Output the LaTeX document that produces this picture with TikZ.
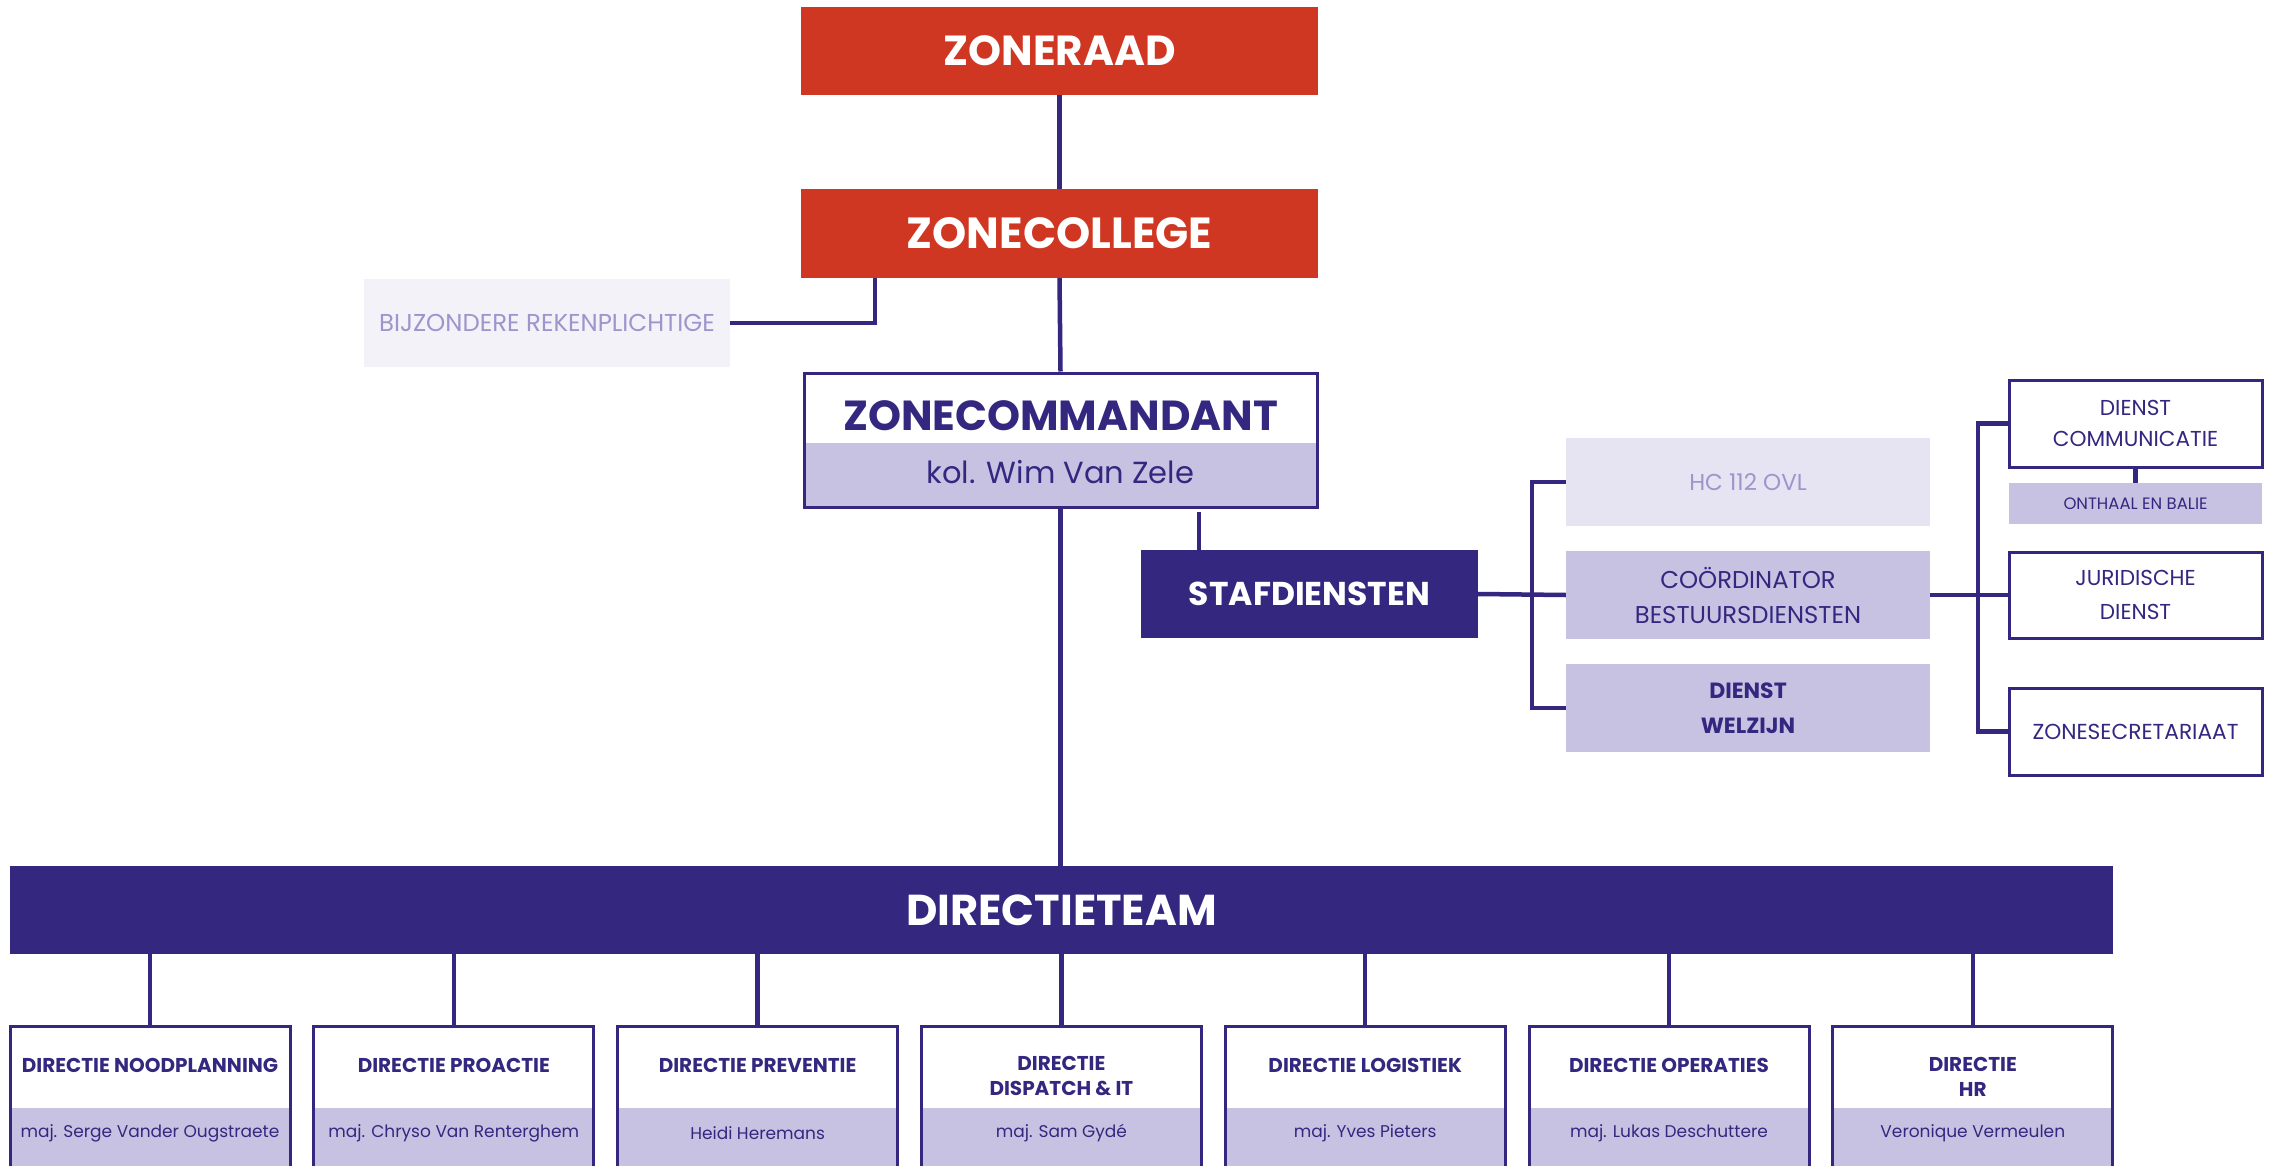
\documentclass[tikz,border=0pt]{standalone}
\usepackage{fontspec}
\setmainfont{Poppins}
\definecolor{zred}{RGB}{207,55,34}
\definecolor{zdark}{RGB}{51,39,128}
\definecolor{zlav}{RGB}{200,194,226}
\definecolor{zpale}{RGB}{230,227,243}
\definecolor{zpaler}{RGB}{243,242,248}
\definecolor{zlight}{RGB}{157,149,203}
\tikzset{
  redbox/.style={fill=zred, text=white, font=\bfseries\fontsize{42}{50}\selectfont, minimum width=517pt, minimum height=88pt, inner sep=0pt},
  darkbox/.style={fill=zdark, text=white, inner sep=0pt},
  lavbox/.style={fill=zlav, text=zdark, inner sep=0pt, align=center},
  outlinebox/.style={draw=zdark, line width=3pt, fill=none, inner sep=0pt},
  whitebox/.style={draw=zdark, line width=3pt, fill=white, text=zdark, inner sep=0pt, align=center},
  conn/.style={draw=zdark, line width=4.5pt},
  txt/.style={text=zdark, inner sep=0pt, align=center},
}
\begin{document}
\begin{tikzpicture}[x=1pt,y=-1pt]
\useasboundingbox (0,0) rectangle (2283,1166);
\clip (0,0) rectangle (2283,1166);
\fill[white] (0,0) rectangle (2283,1166);

% top
\node[redbox] (zr) at (1059.5,51) {ZONERAAD};
\node[redbox, minimum height=89pt, font=\bfseries\fontsize{43.5}{50}\selectfont] (zc) at (1059.5,233.5) {ZONECOLLEGE};
\node[fill=zpaler, text=zlight, minimum width=366pt, minimum height=88pt, inner sep=0pt,
      font=\fontsize{24.4}{29}\selectfont] (bj) at (547,323) {BIJZONDERE REKENPLICHTIGE};

% zonecommandant
\node[fill=white, minimum width=513pt, minimum height=134pt, inner sep=0pt] (cmdbg) at (1060.5,440) {};
\node[fill=zlav, minimum width=513pt, minimum height=64pt, inner sep=0pt] (cmdlow) at (1060.5,475) {};
\node[outlinebox, minimum width=513pt, minimum height=134pt] (cmd) at (1060.5,440) {};
\node[txt, font=\bfseries\fontsize{42}{50}\selectfont] (cmdt) at (1060.5,415.5) {ZONECOMMANDANT};
\node[txt, font=\fontsize{30.5}{37}\selectfont] (cmdn) at (1060.5,472) {kol. Wim Van Zele};

% stafdiensten
\node[darkbox, minimum width=337pt, minimum height=88pt, font=\bfseries\fontsize{33}{40}\selectfont] (staf) at (1309.5,594) {STAFDIENSTEN};
\node[fill=zpale, text=zlight, minimum width=364pt, minimum height=88pt, inner sep=0pt,
      font=\fontsize{23}{28}\selectfont] (hc) at (1748,482) {HC 112 OVL};
\node[lavbox, minimum width=364pt, minimum height=88pt, font=\fontsize{24.3}{35}\selectfont] (coord) at (1748,595) {COÖRDINATOR\\BESTUURSDIENSTEN};
\node[lavbox, minimum width=364pt, minimum height=88pt, font=\bfseries\fontsize{22}{35}\selectfont] (welz) at (1748,708) {DIENST\\WELZIJN};

\node[whitebox, minimum width=253pt, minimum height=87pt, font=\fontsize{21.6}{31}\selectfont] (comm) at (2135.5,423.5) {DIENST\\COMMUNICATIE};
\node[lavbox, minimum width=253pt, minimum height=41pt, font=\fontsize{16.5}{20}\selectfont] (onth) at (2135.5,503.5) {ONTHAAL EN BALIE};
\node[whitebox, minimum width=253pt, minimum height=86pt, font=\fontsize{21.6}{34}\selectfont] (jur) at (2135.5,595) {JURIDISCHE\\DIENST};
\node[whitebox, minimum width=253pt, minimum height=87pt, font=\fontsize{21.7}{26}\selectfont] (zsec) at (2135.5,731.5) {ZONESECRETARIAAT};

% directieteam
\node[darkbox, minimum width=2103pt, minimum height=88pt, font=\bfseries\fontsize{43.2}{50}\selectfont] (dt) at (1061.5,910) {DIRECTIETEAM};

% bottom boxes
\foreach \i/\t/\n/\two in {
  0/{DIRECTIE NOODPLANNING}/{maj. Serge Vander Ougstraete}/0,
  1/{DIRECTIE PROACTIE}/{maj. Chryso Van Renterghem}/0,
  2/{DIRECTIE PREVENTIE}/{Heidi Heremans}/0,
  3/{DIRECTIE\\DISPATCH \& IT}/{maj. Sam Gydé}/1,
  4/{DIRECTIE LOGISTIEK}/{maj. Yves Pieters}/0,
  5/{DIRECTIE OPERATIES}/{maj. Lukas Deschuttere}/0,
  6/{DIRECTIE\\HR}/{Veronique Vermeulen}/1}{
  \pgfmathsetmacro{\cx}{150+303.8*\i}
  \pgfmathsetmacro{\ty}{\two==1 ? 1076.5 : 1065}
  \node[fill=white, minimum width=280pt, minimum height=150pt, inner sep=0pt] (bbg\i) at (\cx,1101) {};
  \node[fill=zlav, minimum width=280pt, minimum height=68pt, inner sep=0pt] (blow\i) at (\cx,1142) {};
  \node[outlinebox, minimum width=280pt, minimum height=150pt] (b\i) at (\cx,1101) {};
  \node[txt, font=\bfseries\fontsize{20}{25}\selectfont] (bt\i) at (\cx,\ty) {\t};
  \node[txt, font=\fontsize{17}{20}\selectfont] (bn\i) at (\cx,1133) {\n};
  \draw[conn] (dt.south -| b\i.north) -- (b\i.north);
}

% connectors
\draw[conn] (zr.south) -- (zc.north);
\draw[conn, line join=miter] (bj.east) -| ([xshift=-184.5pt]zc.south);
\draw[conn] (zc.south) -- (cmd.north);
\draw[conn] (cmd.south) -- (cmd.south |- dt.north);
\draw[conn] ([xshift=58pt]staf.north west) -- ([xshift=58pt,yshift=-3pt]staf.north west |- cmd.south);
\coordinate (lb) at (1532,595);
\coordinate (rb) at (1978,595);
\draw[conn] (staf.east) -- (coord.west);
\draw[conn, line join=miter] (hc.west) -| (lb) |- (welz.west);
\draw[conn] (coord.east) -- (jur.west);
\draw[conn, line join=miter] (comm.west) -| (rb) |- (zsec.west);
\draw[conn] (comm.south) -- (onth.north);
\end{tikzpicture}
\end{document}
